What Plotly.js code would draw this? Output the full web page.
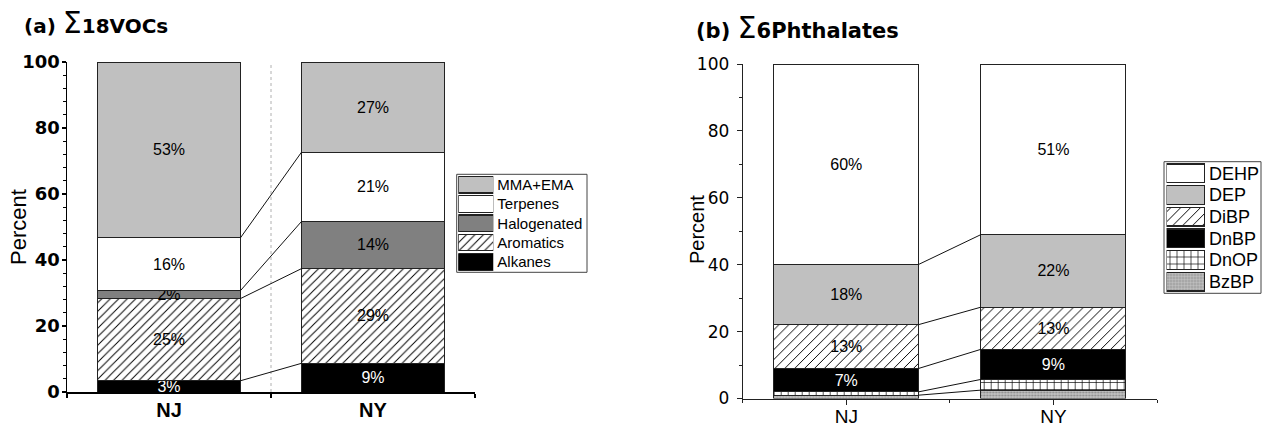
<!DOCTYPE html>
<html>
<head>
<meta charset="utf-8">
<script src="https://cdn.plot.ly/plotly-3.0.1.min.js"></script>
<style>html,body{margin:0;padding:0;background:#fff;}#chart{width:1263px;height:427px;}</style>
</head>
<body>
<div id="chart"></div>
<script>
// ---------- data ----------
const sites = ["NJ", "NY"];

// (a) Σ18VOCs, percent of total (bottom to top)
const vocSeries = ["Alkanes", "Aromatics", "Halogenated", "Terpenes", "MMA+EMA"];
const alkanes     = [3.4, 8.7];
const aromatics   = [24.9, 28.7];
const halogenated = [2.4, 14.3];
const terpenes    = [16.0, 21.0];
const mmaEma      = [53.3, 27.3];

// (b) Σ6Phthalates, percent of total (bottom to top)
const phSeries = ["BzBP", "DnOP", "DnBP", "DiBP", "DEP", "DEHP"];
const bzbp = [1.0, 2.5];
const dnop = [1.0, 3.2];
const dnbp = [7.0, 9.0];
const dibp = [13.1, 12.6];
const dep  = [18.0, 21.7];
const dehp = [59.9, 51.0];

// legend order (top to bottom)
const vocLegendOrder = ["MMA+EMA", "Terpenes", "Halogenated", "Aromatics", "Alkanes"];
const phLegendOrder  = ["DEHP", "DEP", "DiBP", "DnBP", "DnOP", "BzBP"];

const yTicks = [0, 20, 40, 60, 80, 100];
const yTitle = "Percent";

// ---------- styles ----------
const FONT = "Arial, 'Liberation Sans', sans-serif";
const WIDE = "'DejaVu Sans', Arial, sans-serif";
const W = 1263, H = 427;
const px = v => v / W;
const py = v => 1 - v / H;
const BARW = 0.7;

const vocStyle = {
  "MMA+EMA":     {color: "#c0c0c0", text: "#000", label: true},
  "Terpenes":    {color: "#ffffff", text: "#000", label: true},
  "Halogenated": {color: "#808080", text: "#000", label: true},
  "Aromatics":   {color: "#ffffff", pattern: {shape: "/", fgcolor: "#000", bgcolor: "#fff", size: 6, solidity: 0.16}, text: "#000", label: true},
  "Alkanes":     {color: "#000000", text: "#fff", label: true}
};
const phStyle = {
  "DEHP": {color: "#ffffff", text: "#000", label: true},
  "DEP":  {color: "#c0c0c0", text: "#000", label: true},
  "DiBP": {color: "#ffffff", pattern: {shape: "/", fgcolor: "#000", bgcolor: "#fff", size: 7, solidity: 0.14}, text: "#000", label: true},
  "DnBP": {color: "#000000", text: "#fff", label: true},
  "DnOP": {color: "#ffffff", pattern: {shape: "+", fgcolor: "#000", bgcolor: "#fff", size: 7, solidity: 0.18}, text: "#000", label: false},
  "BzBP": {color: "#b8b8b8", pattern: {shape: ".", fgcolor: "#8a8a8a", bgcolor: "#c4c4c4", size: 3, solidity: 0.4}, text: "#000", label: false}
};

const vocValues = {"Alkanes": alkanes, "Aromatics": aromatics, "Halogenated": halogenated, "Terpenes": terpenes, "MMA+EMA": mmaEma};
const phValues  = {"BzBP": bzbp, "DnOP": dnop, "DnBP": dnbp, "DiBP": dibp, "DEP": dep, "DEHP": dehp};

const xIdx = sites.map((s, i) => i);
const traces = [];

function markerFor(st, lw) {
  const m = {color: st.color, line: {color: "#222", width: lw}};
  m.pattern = st.pattern ? st.pattern : {shape: ""};
  return m;
}

function addStack(names, values, styles, xa, ya, fontSize) {
  names.forEach(n => {
    const st = styles[n];
    traces.push({
      type: "bar", x: xIdx, y: values[n], xaxis: xa, yaxis: ya, width: BARW,
      marker: markerFor(st, 1),
      text: st.label ? values[n].map(v => Math.round(v) + "%") : values[n].map(() => ""),
      textposition: "inside", insidetextanchor: "middle", textangle: 0,
      constraintext: "none", cliponaxis: false,
      insidetextfont: {family: FONT, size: fontSize, color: st.text},
      showlegend: false, hoverinfo: "skip"
    });
  });
  // connecting lines between cumulative tops
  const cum = sites.map(() => 0);
  names.slice(0, -1).forEach(n => {
    values[n].forEach((v, i) => cum[i] += v);
    traces.push({
      type: "scatter", mode: "lines", xaxis: xa, yaxis: ya,
      x: [xIdx[0] + BARW / 2, xIdx[1] - BARW / 2], y: cum.slice(),
      line: {color: "#111", width: 1}, showlegend: false, hoverinfo: "skip"
    });
  });
}

addStack(vocSeries, vocValues, vocStyle, "x", "y", 16);
addStack(phSeries, phValues, phStyle, "x2", "y2", 16);

// custom legends (swatch bars with labels as axis tick labels)
function addLegend(order, styles, xa, ya) {
  order.forEach(n => {
    traces.push({
      type: "bar", orientation: "h", y: [n], x: [1], xaxis: xa, yaxis: ya, width: 0.86,
      marker: markerFor(styles[n], 1.2), showlegend: false, hoverinfo: "skip", textposition: "none"
    });
  });
}
addLegend(vocLegendOrder, vocStyle, "x3", "y3");
addLegend(phLegendOrder, phStyle, "x4", "y4");

const layout = {
  width: W, height: H,
  margin: {l: 0, r: 0, t: 0, b: 0},
  paper_bgcolor: "#fff", plot_bgcolor: "rgba(0,0,0,0)",
  barmode: "stack", bargap: 0,
  showlegend: false, hovermode: false,
  font: {family: FONT, color: "#000"},
  xaxis: {
    domain: [px(67), px(475)], range: [-0.5, 1.5], anchor: "y",
    tickmode: "array", tickvals: xIdx, ticktext: sites, ticks: "", showgrid: false, zeroline: false,
    showline: true, linecolor: "#000", linewidth: 1.5,
    tickfont: {family: FONT, size: 20, color: "#000", weight: "bold"}, ticklabelstandoff: -1,
    minor: {tickvals: [-0.5, 0.5, 1.5], ticks: "outside", ticklen: 4, tickwidth: 1.2, tickcolor: "#000", showgrid: false}
  },
  yaxis: {
    domain: [py(392), py(62)], range: [0, 100], anchor: "x",
    tickmode: "array", tickvals: yTicks, ticks: "outside", ticklen: 4, tickwidth: 1.5, tickcolor: "#000",
    showgrid: false, zeroline: false, showline: true, linecolor: "#000", linewidth: 1.5,
    tickfont: {family: WIDE, size: 18, color: "#000", weight: "bold"}, ticklabelstandoff: -2,
    minor: {dtick: 4, tick0: 0, ticks: "outside", ticklen: 3, tickwidth: 1, tickcolor: "#000", showgrid: false}
  },
  xaxis2: {
    domain: [px(742.7), px(1157)], range: [-0.5, 1.5], anchor: "y2",
    tickmode: "array", tickvals: xIdx, ticktext: sites, ticks: "outside", ticklen: 5, tickcolor: "#222", tickwidth: 1,
    showgrid: false, zeroline: false, showline: true, linecolor: "#222", linewidth: 1,
    tickfont: {family: FONT, size: 19, color: "#000"}, ticklabelstandoff: -4,
    minor: {tickvals: [-0.5, 0.5, 1.5], ticks: "outside", ticklen: 3, tickwidth: 1, tickcolor: "#222", showgrid: false}
  },
  yaxis2: {
    domain: [py(398.5), py(64)], range: [0, 100], anchor: "x2",
    tickmode: "array", tickvals: yTicks, ticks: "outside", ticklen: 5, tickwidth: 1, tickcolor: "#222",
    showgrid: false, zeroline: false, showline: true, linecolor: "#222", linewidth: 1,
    tickfont: {family: WIDE, size: 17, color: "#000"}, ticklabelstandoff: 4,
    minor: {dtick: 10, tick0: 0, ticks: "outside", ticklen: 3, tickwidth: 1, tickcolor: "#222", showgrid: false}
  },
  xaxis3: {domain: [px(458.3), px(493.3)], range: [0, 1], anchor: "y3", visible: false, fixedrange: true},
  yaxis3: {
    domain: [py(271.5), py(175)], anchor: "x3", side: "right", type: "category",
    categoryorder: "array", categoryarray: vocLegendOrder.slice().reverse(),
    tickmode: "array", tickvals: vocLegendOrder, ticktext: vocLegendOrder,
    ticks: "", showgrid: false, zeroline: false, showline: false,
    tickfont: {family: FONT, size: 15, color: "#000"}, ticklabelstandoff: 3
  },
  xaxis4: {domain: [px(1166.5), px(1205)], range: [0, 1], anchor: "y4", visible: false, fixedrange: true},
  yaxis4: {
    domain: [py(292.5), py(162.5)], anchor: "x4", side: "right", type: "category",
    categoryorder: "array", categoryarray: phLegendOrder.slice().reverse(),
    tickmode: "array", tickvals: phLegendOrder, ticktext: phLegendOrder,
    ticks: "", showgrid: false, zeroline: false, showline: false,
    tickfont: {family: FONT, size: 18, color: "#000"}, ticklabelstandoff: 3
  },
  shapes: [
    // dotted separator in panel (a)
    {type: "line", xref: "x", yref: "y domain", x0: 0.5, x1: 0.5, y0: 0, y1: 1,
     line: {color: "#b0b0b0", width: 1, dash: "dot"}, layer: "below"},
    // legend frames
    {type: "rect", xref: "paper", yref: "paper", x0: px(456.7), x1: px(587), y0: py(272.3), y1: py(174.3),
     line: {color: "#444", width: 1}},
    {type: "rect", xref: "paper", yref: "paper", x0: px(1164), x1: px(1261), y0: py(293.3), y1: py(161.7),
     line: {color: "#444", width: 1}}
  ],
  annotations: [
    {xref: "paper", yref: "paper", x: px(22), y: py(23), xanchor: "left", yanchor: "middle", showarrow: false,
     text: "<b>(a) </b><span style='font-size:30px'>Σ</span><b>18VOCs</b>",
     font: {family: WIDE, size: 20, color: "#000"}},
    {xref: "paper", yref: "paper", x: px(694), y: py(28), xanchor: "left", yanchor: "middle", showarrow: false,
     text: "<b>(b) </b><span style='font-size:30px'>Σ</span><b>6Phthalates</b>",
     font: {family: WIDE, size: 21, color: "#000"}},
    // y-axis titles
    {xref: "paper", yref: "paper", x: px(18), y: py(227), xanchor: "center", yanchor: "middle", showarrow: false,
     textangle: -90, text: yTitle, font: {family: FONT, size: 22, color: "#000"}},
    {xref: "paper", yref: "paper", x: px(697), y: py(230), xanchor: "center", yanchor: "middle", showarrow: false,
     textangle: -90, text: yTitle, font: {family: FONT, size: 20, color: "#000"}}
  ]
};

Plotly.newPlot("chart", traces, layout, {staticPlot: true, displayModeBar: false});
</script>
</body>
</html>
